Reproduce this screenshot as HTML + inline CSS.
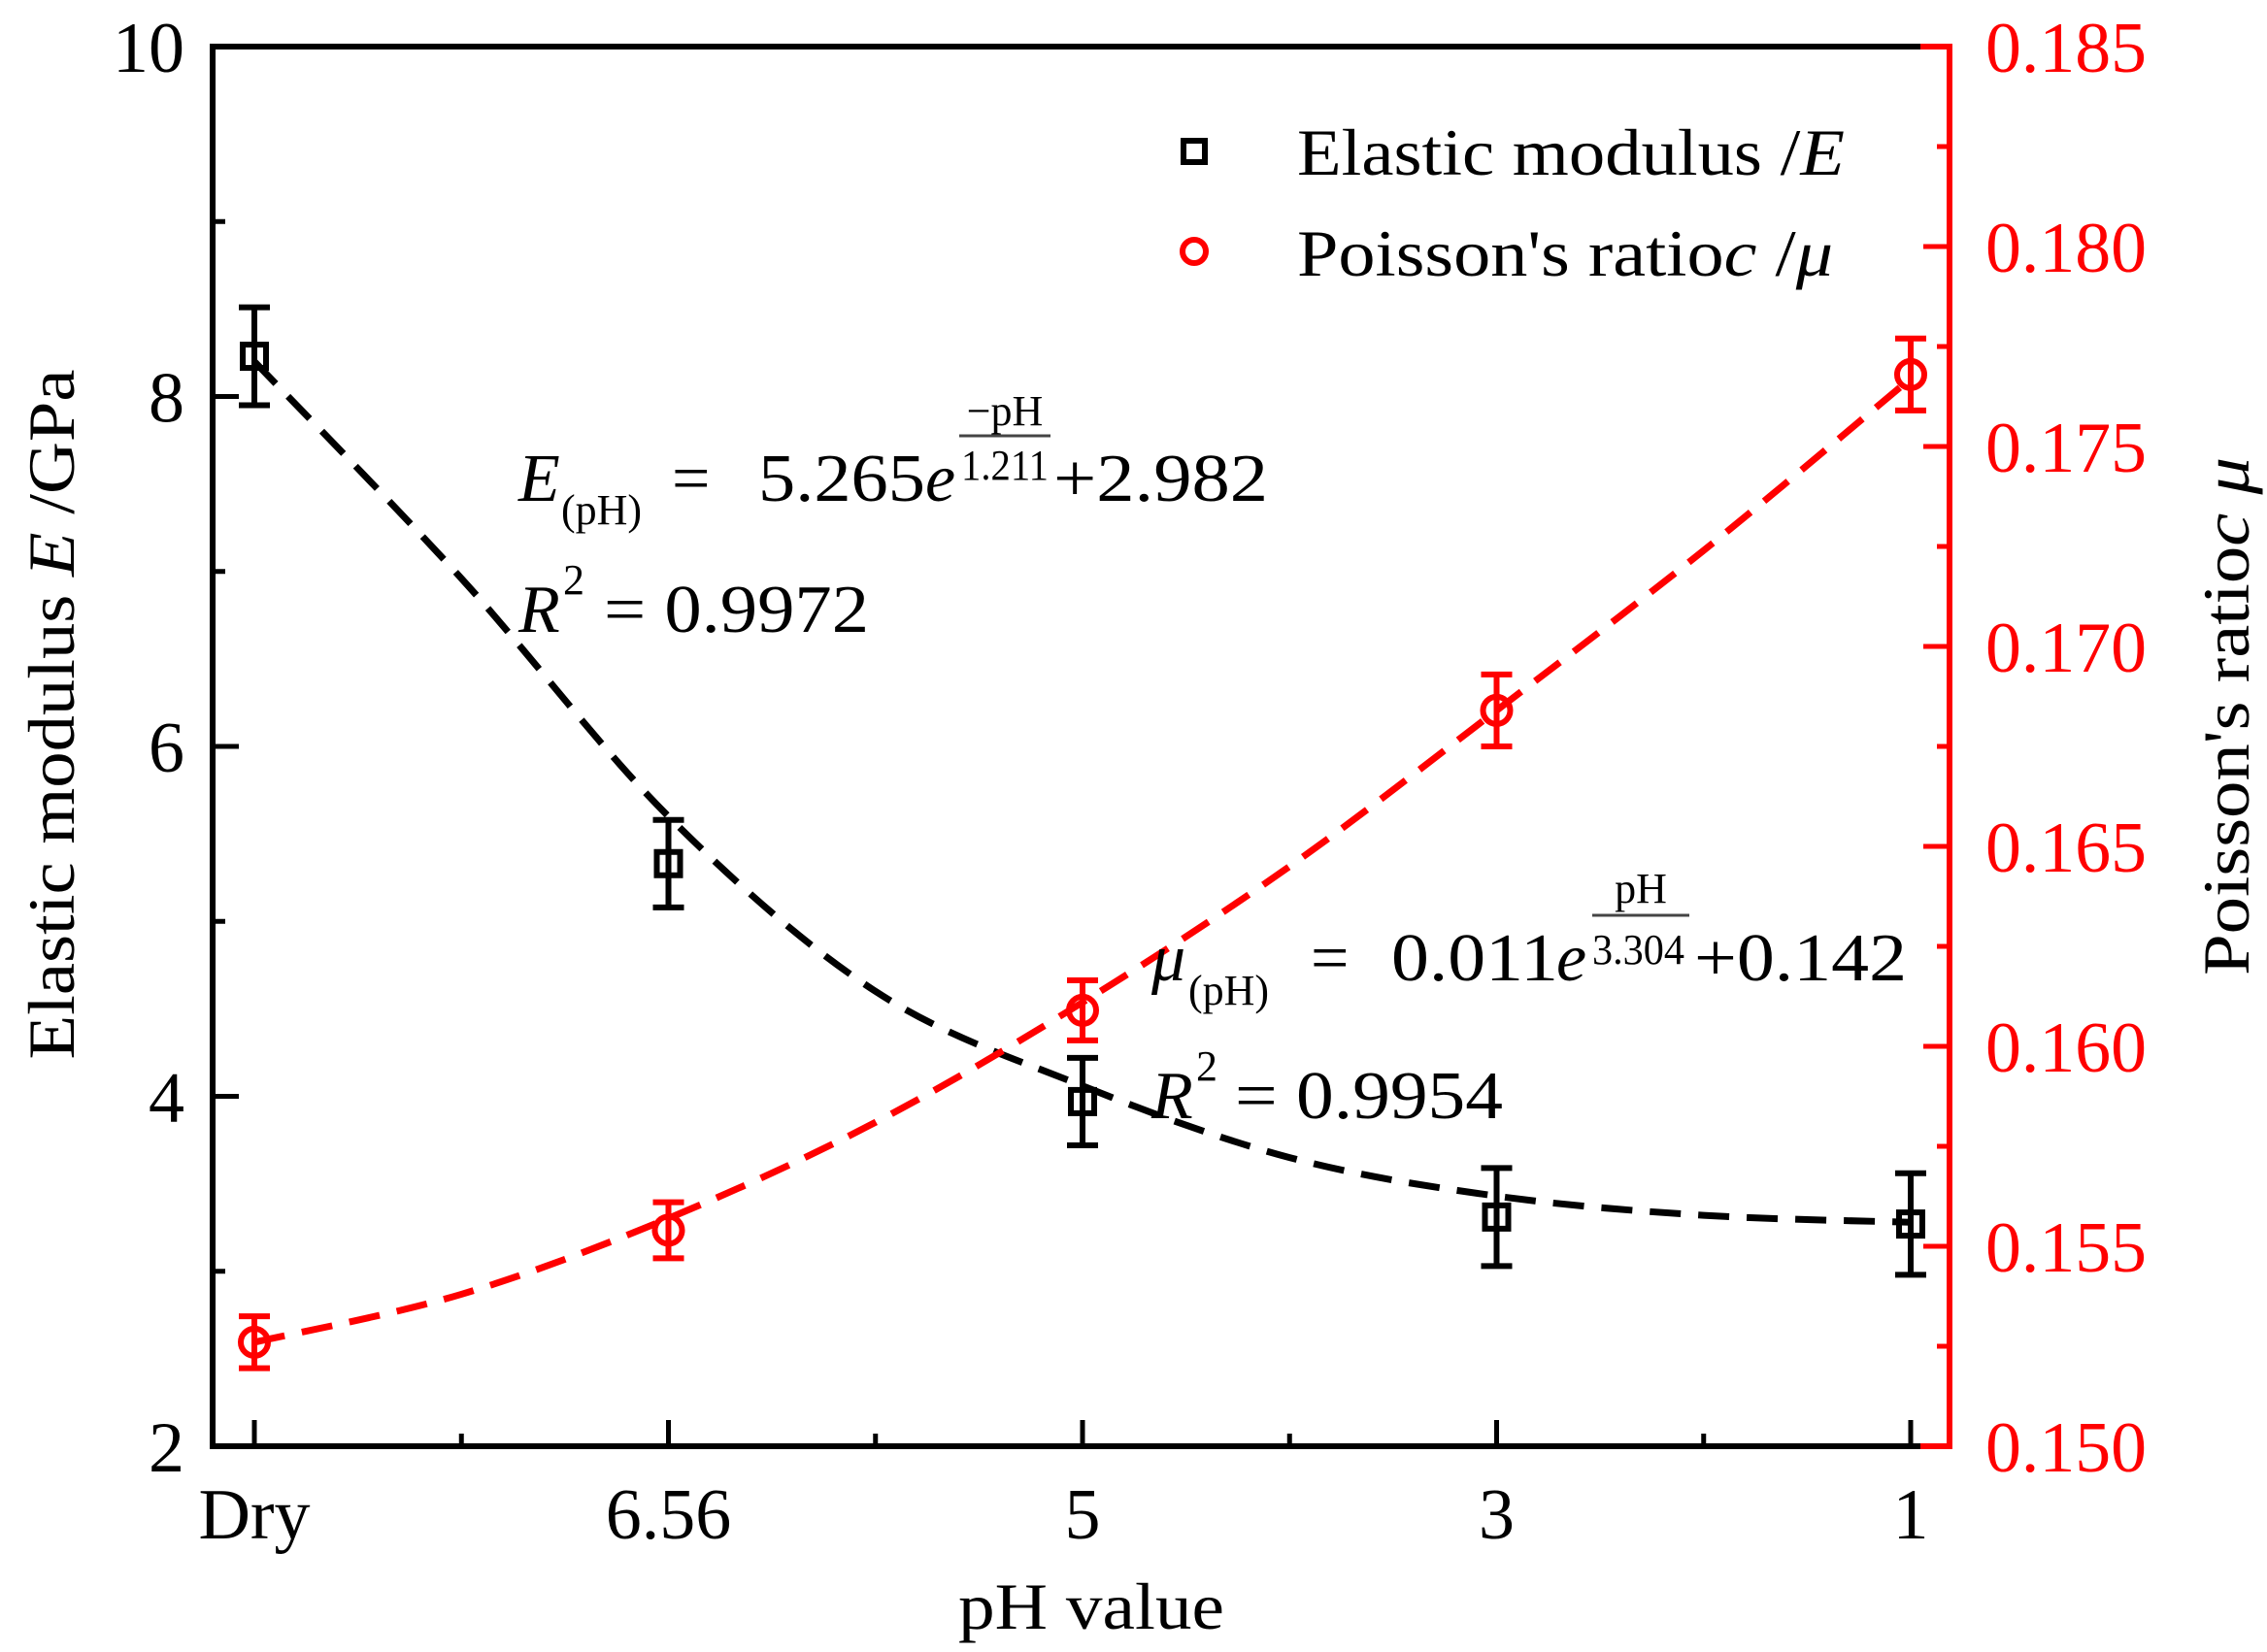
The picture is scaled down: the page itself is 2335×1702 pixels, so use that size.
<!DOCTYPE html>
<html><head><meta charset="utf-8"><style>
html,body{margin:0;padding:0;background:#fff;}
svg{display:block;font-family:"Liberation Serif","DejaVu Serif",serif;}
</style></head><body>
<svg id="chart" width="2335" height="1702" viewBox="0 0 2335 1702" xmlns="http://www.w3.org/2000/svg">
<g id="plot"></g>
<g>
  <rect x="1219" y="145" width="22" height="22" fill="none" stroke="#000" stroke-width="6"/>
  <text x="1336" y="180" font-size="68" textLength="564" lengthAdjust="spacingAndGlyphs">Elastic modulus /<tspan font-style="italic">E</tspan></text>
  <circle cx="1230" cy="259" r="12" fill="none" stroke="#f00" stroke-width="6"/>
  <text x="1336" y="284" font-size="68" textLength="552" lengthAdjust="spacingAndGlyphs">Poisson's ratio<tspan font-style="italic">c</tspan> /<tspan font-style="italic">μ</tspan></text>
</g>
<g font-size="70">
  <text x="534" y="516" font-style="italic">E</text>
  <text x="578" y="540" font-size="44">(pH)</text>
  <text x="692" y="516">=</text>
  <text x="781" y="516" textLength="172" lengthAdjust="spacingAndGlyphs">5.265</text>
  <text x="953" y="516" font-style="italic">e</text>
  <text x="990" y="494" font-size="44" textLength="90" lengthAdjust="spacingAndGlyphs">1.211</text>
  <line x1="988" y1="449" x2="1082" y2="449" stroke="#444" stroke-width="3"/>
  <text x="1035" y="438" font-size="44" text-anchor="middle">−pH</text>
  <text x="1085" y="516" textLength="221" lengthAdjust="spacingAndGlyphs">+2.982</text>
  <text x="534" y="651" font-style="italic">R</text>
  <text x="580" y="612" font-size="44">2</text>
  <text x="622" y="651" textLength="273" lengthAdjust="spacingAndGlyphs">= 0.9972</text>
</g>
<g font-size="70">
  <text x="1186" y="1010" font-style="italic">μ</text>
  <text x="1224" y="1035" font-size="44">(pH)</text>
  <text x="1350" y="1010">=</text>
  <text x="1433" y="1010" textLength="172" lengthAdjust="spacingAndGlyphs">0.011</text>
  <text x="1603" y="1010" font-style="italic">e</text>
  <text x="1640" y="993" font-size="44" textLength="95" lengthAdjust="spacingAndGlyphs">3.304</text>
  <line x1="1640" y1="943" x2="1740" y2="943" stroke="#444" stroke-width="3"/>
  <text x="1690" y="930" font-size="44" text-anchor="middle">pH</text>
  <text x="1745" y="1010" textLength="219" lengthAdjust="spacingAndGlyphs">+0.142</text>
  <text x="1186" y="1152" font-style="italic">R</text>
  <text x="1232" y="1113" font-size="44">2</text>
  <text x="1272" y="1152" textLength="276" lengthAdjust="spacingAndGlyphs">= 0.9954</text>
</g>
<text transform="translate(76,736) rotate(-90)" text-anchor="middle" font-size="68" textLength="711" lengthAdjust="spacingAndGlyphs">Elastic modulus <tspan font-style="italic">E</tspan> /GPa</text>
<text transform="translate(2316,738) rotate(-90)" text-anchor="middle" font-size="68" textLength="534" lengthAdjust="spacingAndGlyphs">Poisson's ratio<tspan font-style="italic">c</tspan> <tspan font-style="italic">μ</tspan></text>
<text x="1124" y="1678" text-anchor="middle" font-size="68" textLength="274" lengthAdjust="spacingAndGlyphs">pH value</text>
</svg>
<script>
const categories = ["Dry", "6.56", "5", "3", "1"];
const eValues = [8.23, 5.33, 3.97, 3.31, 3.27];
const eErrors = [0.28, 0.25, 0.25, 0.28, 0.29];
const muValues = [0.1526, 0.1554, 0.1609, 0.1684, 0.1768];
const muErrors = [0.00065, 0.0007, 0.00075, 0.0009, 0.0009];
const fitPos = [0, 0.5, 1, 1.5, 2, 2.5, 3, 3.5, 4];
const eFit = [8.2, 6.96, 5.6, 4.6, 4.06, 3.65, 3.43, 3.32, 3.28];
const muFit = [0.1526, 0.1538, 0.1557, 0.1581, 0.1611, 0.1645, 0.1684, 0.1724, 0.1767];
const leftTicks = [2, 4, 6, 8, 10];
const rightTicks = [0.150, 0.155, 0.160, 0.165, 0.170, 0.175, 0.180, 0.185];

const NS = "http://www.w3.org/2000/svg";
const L = 219, R = 2008, T = 48, B = 1490;
const X0 = 262, DX = (1968 - 262) / 4;
const xPos = i => X0 + i * DX;
const yLeft = v => B - (v - 2) / 8 * (B - T);
const yRight = v => B - (v - 0.150) / 0.035 * (B - T);
const plot = document.getElementById('plot');
function mk(tag, attrs, parent) {
  const e = document.createElementNS(NS, tag);
  for (const k in attrs) e.setAttribute(k, attrs[k]);
  (parent || plot).appendChild(e);
  return e;
}
let el;
function smoothPath(arr, yf) {
  const pts = fitPos.map((p, i) => [xPos(p), yf(arr[i])]);
  let d = 'M' + pts[0][0] + ' ' + pts[0][1];
  for (let i = 0; i < pts.length - 1; i++) {
    const p0 = pts[Math.max(0, i - 1)], p1 = pts[i], p2 = pts[i + 1], p3 = pts[Math.min(pts.length - 1, i + 2)];
    const c1 = [p1[0] + (p2[0] - p0[0]) / 6, p1[1] + (p2[1] - p0[1]) / 6];
    const c2 = [p2[0] - (p3[0] - p1[0]) / 6, p2[1] - (p3[1] - p1[1]) / 6];
    d += ` C${c1[0]} ${c1[1]} ${c2[0]} ${c2[1]} ${p2[0]} ${p2[1]}`;
  }
  return d;
}
el = mk('path', {d: smoothPath(eFit, yLeft), fill: 'none', stroke: '#000', 'stroke-width': 7, 'stroke-dasharray': '32 18'});


el = mk('path', {d: smoothPath(muFit, yRight), fill: 'none', stroke: '#f00', 'stroke-width': 7, 'stroke-dasharray': '32 18'});


el = mk('path', {d: `M${R} ${T} L${L} ${T} L${L} ${B} L${R} ${B}`, fill: 'none', stroke: '#000', 'stroke-width': 6});


el = mk('path', {d: `M${R - 30} ${T} L${R} ${T} L${R} ${B} L${R - 30} ${B}`, fill: 'none', stroke: '#f00', 'stroke-width': 6});


for (let v = 2; v <= 10; v += 1) {
  const y = yLeft(v), major = v % 2 === 0;
  el = mk('line', {x1: L, x2: L + (major ? 27 : 13), y1: y, y2: y, stroke: '#000', 'stroke-width': 5});
  
  
}
leftTicks.forEach(v => {
  el = mk('text', {x: 190, y: yLeft(v) + 26, 'text-anchor': 'end', 'font-size': 74});
  el.textContent = v;
  
  
});
for (let k = 0; k <= 14; k++) {
  const v = 0.150 + k * 0.0025, y = yRight(v), major = k % 2 === 0;
  el = mk('line', {x1: R, x2: R - (major ? 27 : 13), y1: y, y2: y, stroke: '#f00', 'stroke-width': 5});
  
  
}
rightTicks.forEach(v => {
  el = mk('text', {x: 2045, y: yRight(v) + 26, 'font-size': 74, fill: '#f00', textLength: 166, lengthAdjust: 'spacingAndGlyphs'});
  el.textContent = v.toFixed(3);
  
  
});
for (let k = 0; k <= 8; k++) {
  const x = xPos(k / 2), major = k % 2 === 0;
  el = mk('line', {x1: x, x2: x, y1: B, y2: B - (major ? 27 : 13), stroke: '#000', 'stroke-width': 5});
  
  
}
categories.forEach((c, i) => {
  el = mk('text', {x: xPos(i), y: 1585, 'text-anchor': 'middle', 'font-size': 74});
  el.textContent = c;
  
  
});
function errBar(x, y1, y2, color, name) {
  const g = mk('g', {stroke: color, 'stroke-width': 6, fill: 'none'});
  
  
  mk('line', {x1: x, x2: x, y1: y1, y2: y2}, g);
  mk('line', {x1: x - 16, x2: x + 16, y1: y1, y2: y1}, g);
  mk('line', {x1: x - 16, x2: x + 16, y1: y2, y2: y2}, g);
}
muValues.forEach((v, i) => {
  const x = xPos(i);
  errBar(x, yRight(v + muErrors[i]), yRight(v - muErrors[i]), '#f00', 'error-bar-poisson');
  el = mk('circle', {cx: x, cy: yRight(v), r: 14, fill: 'none', stroke: '#f00', 'stroke-width': 6});
  
  
});
eValues.forEach((v, i) => {
  const x = xPos(i);
  errBar(x, yLeft(v + eErrors[i]), yLeft(v - eErrors[i]), '#000', 'error-bar-elastic');
  el = mk('rect', {x: x - 12, y: yLeft(v) - 12, width: 24, height: 24, fill: 'none', stroke: '#000', 'stroke-width': 6});
  
  
});
</script>
</body></html>
